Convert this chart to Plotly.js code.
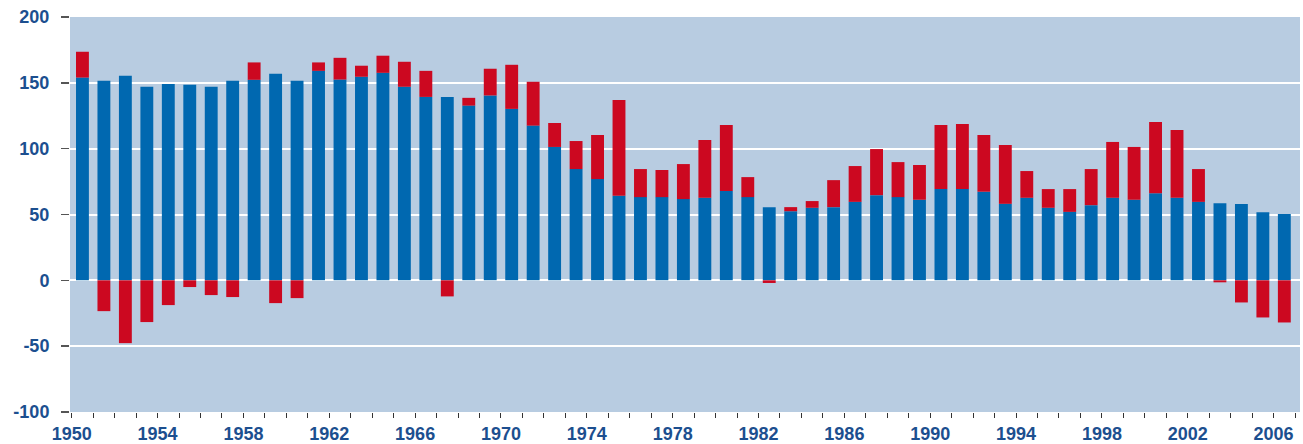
<!DOCTYPE html>
<html>
<head>
<meta charset="utf-8">
<script src="https://cdn.plot.ly/plotly-3.0.1.min.js"></script>
<style>html,body{margin:0;padding:0;background:#fff;}#chart{width:1303px;height:444px;}</style>
</head>
<body>
<div id="chart"></div>
<script>
const years = [];
for (let y = 1950; y <= 2006; y++) years.push(y);

// Blue base series
const blueValues = [
  154.0, 151.5, 155.3, 147.0, 149.2, 148.5, 147.0, 151.5, 152.3, 156.9,
  151.5, 159.1, 152.5, 154.6, 157.6, 147.0, 139.3, 139.3, 132.7, 140.4,
  130.2, 117.5, 101.3, 84.5, 76.9, 64.2, 63.2, 63.2, 61.7, 62.7,
  67.8, 63.2, 55.6, 52.5, 55.1, 55.6, 59.6, 64.7, 63.2, 61.2,
  69.3, 69.3, 67.3, 58.1, 62.7, 55.1, 52.0, 57.1, 62.7, 61.2,
  66.2, 62.7, 59.6, 58.6, 57.9, 51.8, 50.3
];
// Red series (stacked on top if positive, below zero if negative)
const redValues = [
  19.6, -23.4, -47.7, -31.7, -18.8, -5.1, -11.2, -12.7, 13.2, -17.3,
  -13.5, 6.4, 16.5, 8.4, 13.0, 19.0, 19.8, -12.2, 5.9, 20.3,
  33.5, 33.3, 18.2, 21.3, 33.5, 72.8, 21.3, 20.6, 26.6, 43.9,
  50.2, 15.2, -2.0, 3.1, 5.1, 20.5, 27.2, 35.0, 26.6, 26.4,
  48.7, 49.5, 43.1, 44.7, 20.3, 14.2, 17.3, 27.4, 42.4, 40.1,
  54.1, 51.5, 24.9, -1.5, -16.8, -28.2, -32.0
];

const yTickVals = [-100, -50, 0, 50, 100, 150, 200];
const yTickText = ["-100", "-50", "0", "50", "100", "150", "200"];
const xTickVals = [1950, 1954, 1958, 1962, 1966, 1970, 1974, 1978, 1982, 1986, 1990, 1994, 1998, 2002, 2006];
const xTickText = xTickVals.map(String);

const xPos = years.map(y => y + 0.5);

const labelFont = {family: '"Liberation Sans", Arial, sans-serif', size: 18, color: '#1c4f8f', weight: 700};

const traces = [
  {type: 'bar', x: xPos, y: blueValues, marker: {color: '#0068b0', line: {width: 0}}, width: 0.6, hoverinfo: 'x+y', name: 'blue'},
  {type: 'bar', x: xPos, y: redValues, marker: {color: '#cc0820', line: {width: 0}}, width: 0.6, hoverinfo: 'x+y', name: 'red'}
];

const layout = {
  width: 1303, height: 444,
  margin: {l: 70, r: 3, t: 17, b: 32, pad: 0},
  paper_bgcolor: '#ffffff',
  plot_bgcolor: '#b8cce1',
  barmode: 'relative',
  showlegend: false,
  xaxis: {
    range: [1949.92, 2007.23],
    tickmode: 'array', tickvals: xTickVals, ticktext: xTickText,
    ticks: 'outside', ticklen: 5, tickwidth: 1, tickcolor: '#333333',
    minor: {dtick: 1, tick0: 1950, ticks: 'outside', ticklen: 5, tickwidth: 1, tickcolor: '#333333', showgrid: false},
    showgrid: false, zeroline: false, showline: false,
    tickfont: labelFont,
    ticklabelstandoff: 0
  },
  yaxis: {
    range: [-100, 200],
    tickmode: 'array', tickvals: yTickVals, ticktext: yTickText,
    ticks: 'outside', ticklen: 8, tickwidth: 1.5, tickcolor: '#555555',
    showgrid: true, gridcolor: '#ffffff', gridwidth: 2,
    zeroline: true, zerolinecolor: '#ffffff', zerolinewidth: 2,
    showline: false,
    tickfont: labelFont,
    ticklabelstandoff: 8
  }
};

Plotly.newPlot('chart', traces, layout, {staticPlot: true, displayModeBar: false});
</script>
</body>
</html>
